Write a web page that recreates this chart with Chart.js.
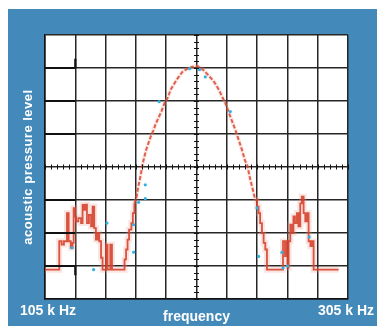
<!DOCTYPE html>
<html>
<head>
<meta charset="utf-8">
<script src="https://cdn.jsdelivr.net/npm/chart.js@4/dist/chart.umd.min.js"></script>
<style>
  html, body { margin: 0; padding: 0; background: #ffffff; }
  #wrap { width: 377px; height: 326px; }
</style>
</head>
<body>
<div id="wrap"><canvas id="c" width="377" height="326"></canvas></div>
<script>
// ---- data (frequency in kHz, level in grid divisions) ----
// left side-lobe noise (stepped trace)
const leftFreq = [
  105, 114.4, 116, 117.5, 119.5, 120.6, 122, 123.2, 123.9, 124.8, 125.5, 127, 128.8, 129.8, 131, 132, 132.7, 134, 135.4,
  136.4, 137.5, 138.6, 139.7, 140.8, 142, 143, 145.3, 146.3, 148.1, 149.2,
  157.5, 158.5, 159.5, 160.5, 162, 163, 164
];
const leftLevel = [
  0.89, 1.75, 1.65, 1.75, 2.6, 1.75, 1.55, 1.7, 2.75, 2.5, 2.35, 2.45, 2.3, 2.85, 2.7, 2.86, 2.3, 2.55, 2.2,
  2.8, 2.15, 1.8, 2.0, 1.75, 1.25, 0.89, 1.65, 0.89, 1.65, 0.89,
  1.2, 1.5, 1.8, 2.1, 2.3, 2.6, 2.9
];
// main lobe
const lobeFreq = [
  164, 165.5, 166.5, 167.5, 168.5, 169.5, 170.5, 172, 173.5, 175, 176.5, 178,
  180, 182, 184, 186, 188, 190, 192, 194, 196, 198, 200, 202, 204, 206, 208, 210, 212, 214, 216, 218, 220, 222,
  224, 227.3, 230.6, 233, 235, 237, 238.5, 240.5, 242, 243.8
];
const lobeLevel = [
  2.9, 3.1, 3.4, 3.6, 3.85, 4.1, 4.3, 4.55, 4.75, 4.95, 5.1, 5.3,
  5.5, 5.7, 5.95, 6.1, 6.35, 6.5, 6.65, 6.78, 6.9, 6.95, 7.0, 7.03, 7.06, 7.05, 7.0, 6.92, 6.82, 6.72, 6.62, 6.48, 6.32, 6.12,
  5.94, 5.53, 5.13, 4.8, 4.52, 4.2, 4.05, 3.62, 3.35, 3.0
];
// right side-lobe noise (stepped trace)
const rightFreq = [
  243.8, 245, 246, 247, 248.2, 249.3, 250.4, 251.5,
  262.1, 263.4, 264.2, 265, 265.8, 266.9, 268, 269, 270, 271.3, 272.3, 273.5, 274.5, 275.7, 276.8, 278, 279, 280.2,
  281.2, 282.3, 298.8
];
const rightLevel = [
  3.0, 2.8, 2.6, 2.3, 2.0, 1.7, 1.5, 0.89,
  1.75, 1.3, 1.75, 0.95, 1.75, 2.25, 2.0, 2.5, 2.3, 2.6, 2.2, 2.9, 3.1, 2.6, 2.35, 2.6, 1.75, 1.6,
  1.75, 0.89, 0.89
];
// measured points
const dotFreq  = [122.8, 137.1, 145.9, 163.5, 163.5, 166.8, 171.2, 171.2, 180.3, 200.5, 207, 210.8, 227.3, 244.9, 246, 261.4, 262.1, 265.1, 279.4];
const dotLevel = [1.55, 0.89, 2.3, 1.42, 2.25, 2.93, 3.46, 3.04, 5.98, 6.98, 6.95, 6.73, 5.68, 2.76, 1.29, 1.41, 0.94, 1.0, 1.88];
const xTickLabels = ['105 k Hz', '305 k Hz'];
const xTitle = 'frequency';
const yTitle = 'acoustic pressure level';
const xMin = 105, xMax = 305, xStep = 20;
const yMin = 0, yMax = 8, yStep = 1;

const pts = (fs, ls) => fs.map((f, i) => ({ x: f, y: ls[i] }));
const leftPts = pts(leftFreq, leftLevel);
const lobePts = pts(lobeFreq, lobeLevel);
const rightPts = pts(rightFreq, rightLevel);
const dotPts = pts(dotFreq, dotLevel);

const BLUE = '#4389b9';
const HALO = 'rgba(238,150,135,0.25)';
const RED = 'rgba(214,66,46,0.9)';

const decor = {
  id: 'decor',
  beforeDraw(chart) {
    const ctx = chart.ctx;
    ctx.save();
    ctx.fillStyle = '#ffffff';
    ctx.fillRect(0, 0, chart.width, chart.height);
    ctx.fillStyle = BLUE;
    ctx.fillRect(8, 9, chart.width - 8, chart.height - 9);
    const a = chart.chartArea;
    ctx.fillStyle = '#ffffff';
    ctx.fillRect(a.left, a.top, a.right - a.left, a.bottom - a.top);
    ctx.restore();
  },
  afterDatasetsDraw(chart) {
    const ctx = chart.ctx;
    const xs = chart.scales.x, ys = chart.scales.y;
    ctx.save();
    ctx.strokeStyle = '#111';
    ctx.lineWidth = 1;
    const cx = xs.getPixelForValue((xMin + xMax) / 2);
    const cy = ys.getPixelForValue((yMin + yMax) / 2);
    ctx.beginPath();
    for (let v = yMin; v <= yMax + 1e-9; v += yStep / 5) {
      const p = Math.round(ys.getPixelForValue(v)) + 0.5;
      ctx.moveTo(cx - 2.5, p); ctx.lineTo(cx + 2.5, p);
    }
    for (let v = xMin; v <= xMax + 1e-9; v += xStep / 5) {
      const p = Math.round(xs.getPixelForValue(v)) + 0.5;
      ctx.moveTo(p, cy - 2.5); ctx.lineTo(p, cy + 2.5);
    }
    ctx.stroke();
    ctx.lineWidth = 2.2;
    ctx.beginPath();
    [1, 2, 3, 5, 6, 7].forEach(v => {
      const p = ys.getPixelForValue(v);
      ctx.moveTo(xs.getPixelForValue(xMin), p);
      ctx.lineTo(xs.getPixelForValue(xMin + xStep), p);
    });
    const x1 = xs.getPixelForValue(xMin + xStep);
    ctx.moveTo(x1, ys.getPixelForValue(7)); ctx.lineTo(x1, ys.getPixelForValue(7.28));
    ctx.moveTo(x1, ys.getPixelForValue(1)); ctx.lineTo(x1, ys.getPixelForValue(0.72));
    ctx.stroke();
    ctx.restore();
  },
  afterDraw(chart) {
    const ctx = chart.ctx;
    const xs = chart.scales.x;
    const a = chart.chartArea;
    ctx.save();
    ctx.fillStyle = '#ffffff';
    ctx.textBaseline = 'alphabetic';
    ctx.font = "bold 14px 'Liberation Sans', Arial, sans-serif";
    ctx.textAlign = 'center';
    ctx.fillText(xTickLabels[0], xs.getPixelForValue(xMin) + 3, 314.5);
    ctx.textAlign = 'right';
    ctx.fillText(xTickLabels[1], 374, 314.5);
    ctx.textAlign = 'center';
    ctx.fillText(xTitle, xs.getPixelForValue((xMin + xMax) / 2), 320.5);
    ctx.translate(31.5, (a.top + a.bottom) / 2);
    ctx.rotate(-Math.PI / 2);
    ctx.font = "bold 13px 'Liberation Sans', Arial, sans-serif";
    try { ctx.letterSpacing = '0.5px'; } catch (e) {}
    ctx.fillText(yTitle, 0, 0);
    ctx.restore();
  }
};

const stepHalo = d => ({ data: d, showLine: true, stepped: true, borderColor: HALO, borderWidth: 6, pointRadius: 0, order: 4 });
const stepLine = d => ({ data: d, showLine: true, stepped: true, borderColor: RED, borderWidth: 1.8, pointRadius: 0, order: 2 });

new Chart(document.getElementById('c'), {
  type: 'scatter',
  data: {
    datasets: [
      stepHalo(leftPts), stepHalo(rightPts),
      { data: lobePts, showLine: true, borderColor: 'rgba(240,160,145,0.22)', borderWidth: 4, pointRadius: 0, order: 3 },
      stepLine(leftPts), stepLine(rightPts),
      { data: lobePts, showLine: true, borderColor: 'rgba(218,72,50,0.85)', borderWidth: 2, borderDash: [4, 2], pointRadius: 0, order: 2 },
      { data: dotPts, showLine: false, backgroundColor: '#2fb3e3', borderWidth: 0, pointRadius: 1.6, order: 1 }
    ]
  },
  options: {
    responsive: false,
    animation: false,
    devicePixelRatio: 1,
    layout: { padding: { left: 45, top: 35, right: 29, bottom: 27 } },
    plugins: { legend: { display: false }, tooltip: { enabled: false } },
    scales: {
      x: {
        type: 'linear', min: xMin, max: xMax,
        ticks: { stepSize: xStep, display: false },
        grid: { color: '#262626', lineWidth: 1.5, drawTicks: false },
        border: { color: '#111', width: 1.5 }
      },
      y: {
        type: 'linear', min: yMin, max: yMax,
        ticks: { stepSize: yStep, display: false },
        grid: { color: '#262626', lineWidth: 1.5, drawTicks: false },
        border: { color: '#111', width: 1.5 }
      }
    }
  },
  plugins: [decor]
});
</script>
</body>
</html>
